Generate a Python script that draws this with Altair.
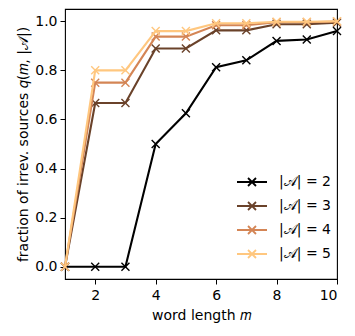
import altair as alt
import pandas as pd

word_length = [1, 2, 3, 4, 5, 6, 7, 8, 9, 10]
q_A2 = [0.0, 0.0, 0.0, 0.5, 0.625, 0.813, 0.841, 0.92, 0.926, 0.96]
q_A3 = [0.0, 0.667, 0.667, 0.889, 0.889, 0.963, 0.963, 0.988, 0.988, 0.994]
q_A4 = [0.0, 0.75, 0.75, 0.9375, 0.9375, 0.984, 0.984, 0.996, 0.996, 0.999]
q_A5 = [0.0, 0.8, 0.8, 0.96, 0.96, 0.992, 0.992, 0.998, 0.998, 1.0]
series_labels = ["|𝒜| = 2", "|𝒜| = 3", "|𝒜| = 4", "|𝒜| = 5"]
series_colors = ["#000000", "#6a422a", "#d48555", "#ffc77f"]
x_ticks = [2, 4, 6, 8, 10]
y_ticks = [0.0, 0.2, 0.4, 0.6, 0.8, 1.0]

rows = []
for lab, vals in zip(series_labels, [q_A2, q_A3, q_A4, q_A5]):
    for m, v in zip(word_length, vals):
        rows.append({"m": m, "q": v, "series": lab})
df = pd.DataFrame(rows)

FONT = "DejaVu Sans"
XSHAPE = "M-1,-1L1,1M-1,1L1,-1"
LEGSHAPE = "M-1.5,0H1.5M-0.4,-0.4L0.4,0.4M-0.4,0.4L0.4,-0.4"

color = alt.Color(
    "series:N",
    scale=alt.Scale(domain=series_labels, range=series_colors),
    legend=alt.Legend(
        title=None, orient="none", legendX=176, legendY=162,
        symbolType=LEGSHAPE, symbolSize=400, symbolStrokeWidth=1.8,
        symbolFillColor="transparent", labelFontSize=14, labelFont=FONT,
        labelColor="black", labelOffset=16, rowPadding=5, padding=0,
    ),
)
x = alt.X("m:Q", scale=alt.Scale(domain=[1, 10], nice=False, zero=False),
          axis=alt.Axis(values=x_ticks, title="word length 𝑚", grid=False,
                        domain=False, tickColor="black", tickSize=5,
                        labelFontSize=14, labelFont=FONT, labelColor="black",
                        labelPadding=4, titleFontSize=14, titleFont=FONT,
                        titleFontWeight="normal", titleColor="black",
                        titlePadding=6))
y = alt.Y("q:Q", scale=alt.Scale(domain=[-0.05, 1.05], nice=False, zero=False),
          axis=alt.Axis(values=y_ticks, format=".1f",
                        title="fraction of irrev. sources 𝑞(𝑚, |𝒜|)", grid=False,
                        domain=False, tickColor="black", tickSize=5,
                        labelFontSize=14, labelFont=FONT, labelColor="black",
                        labelPadding=3, titleFontSize=14, titleFont=FONT,
                        titleFontWeight="normal", titleColor="black",
                        titlePadding=4))

layers = []
for lab in series_labels:
    base = alt.Chart(df).transform_filter(alt.datum.series == lab)
    layers.append(base.mark_line(strokeWidth=2.1).encode(x=x, y=y, color=color))
    layers.append(base.mark_point(shape=XSHAPE, size=64, filled=False,
                                  strokeWidth=1.4, opacity=1).encode(x=x, y=y, color=color))

chart = alt.layer(*layers).properties(
    width=272, height=270,
    autosize=alt.AutoSizeParams(type="none"),
    padding={"left": 57, "top": 1, "right": 10, "bottom": 50},
).configure_view(stroke="black", strokeWidth=1.1)

chart.save("out.html", embed_options={"renderer": "svg", "actions": False})
